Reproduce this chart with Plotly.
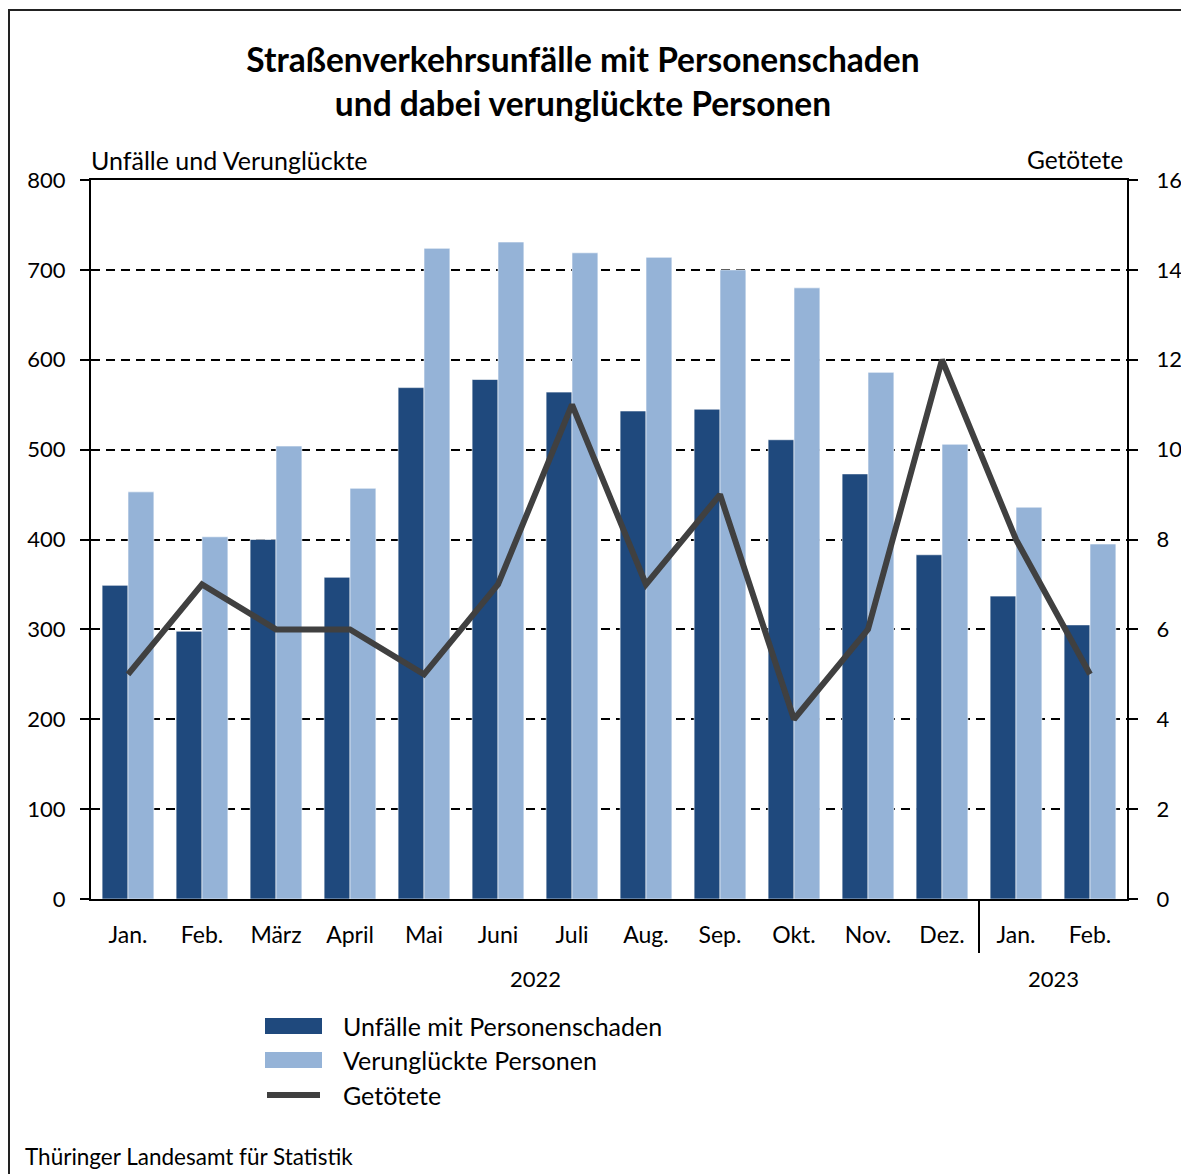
import plotly.graph_objects as go

months = ["Jan.", "Feb.", "März", "April", "Mai", "Juni", "Juli", "Aug.", "Sep.", "Okt.", "Nov.", "Dez.", "Jan.", "Feb."]
years = ["2022", "2023"]
unfaelle = [349, 298, 400, 358, 569, 578, 564, 543, 545, 511, 473, 383, 337, 305]
verunglueckte = [453, 403, 504, 457, 724, 731, 719, 714, 700, 680, 586, 506, 436, 395]
getoetete = [5, 7, 6, 6, 5, 7, 11, 7, 9, 4, 6, 12, 8, 5]

x = list(range(len(months)))
FONT = "Source Sans Pro, Lato, sans-serif"
DARK = "#1F497D"
LIGHT = "#95B3D7"
LINE = "#404040"

W, H = 1181, 1174

# window pixels -> paper coordinates (plot area 91..1127 x, 180..899 y)
def px(xp):
    return (xp - 91) / 1036.0

def py(yp):
    return (899 - yp) / 719.0

fig = go.Figure()
fig.add_trace(go.Bar(x=x, y=unfaelle, name="Unfälle mit Personenschaden",
                     marker=dict(color=DARK, line=dict(color="white", width=0.6)),
                     showlegend=False))
fig.add_trace(go.Bar(x=x, y=verunglueckte, name="Verunglückte Personen",
                     marker=dict(color=LIGHT, line=dict(color="white", width=0.6)),
                     showlegend=False))
fig.add_trace(go.Scatter(x=x, y=getoetete, name="Getötete", mode="lines",
                         line=dict(color=LINE, width=6), yaxis="y2",
                         showlegend=False))

shapes = []
# outer frame (left and top)
shapes.append(dict(type="line", xref="paper", yref="paper", x0=px(9), x1=px(9), y0=py(10), y1=py(1190),
                   line=dict(color="#222", width=2)))
shapes.append(dict(type="line", xref="paper", yref="paper", x0=px(8), x1=px(1200), y0=py(10), y1=py(10),
                   line=dict(color="#222", width=2)))
# year separator
shapes.append(dict(type="line", xref="x", yref="paper", x0=11.5, x1=11.5, y0=0, y1=py(953),
                   line=dict(color="black", width=2)))
# manual legend
shapes.append(dict(type="rect", xref="paper", yref="paper", x0=px(265), x1=px(322), y0=py(1018), y1=py(1034),
                   line=dict(width=0), fillcolor=DARK))
shapes.append(dict(type="rect", xref="paper", yref="paper", x0=px(265), x1=px(322), y0=py(1052), y1=py(1068),
                   line=dict(width=0), fillcolor=LIGHT))
shapes.append(dict(type="line", xref="paper", yref="paper", x0=px(267), x1=px(320), y0=py(1095), y1=py(1095),
                   line=dict(color=LINE, width=6)))

annotations = []
legend_items = [("Unfälle mit Personenschaden", 1026), ("Verunglückte Personen", 1060), ("Getötete", 1095)]
for txt, yy in legend_items:
    annotations.append(dict(text=txt, xref="paper", yref="paper", x=px(341), y=py(yy), xanchor="left",
                            yanchor="middle", showarrow=False, font=dict(size=25, color="black", family=FONT)))
annotations.append(dict(text="Unfälle und Verunglückte", xref="paper", yref="paper", x=px(89), y=py(160),
                        xanchor="left", yanchor="middle", showarrow=False,
                        font=dict(size=25, color="black", family=FONT)))
annotations.append(dict(text="Getötete", xref="paper", yref="paper", x=px(1125), y=py(160),
                        xanchor="right", yanchor="middle", showarrow=False,
                        font=dict(size=24.5, color="black", family=FONT)))
annotations.append(dict(text=years[0], xref="x", yref="paper", x=5.5, y=py(978), xanchor="center",
                        yanchor="middle", showarrow=False, font=dict(size=22, color="black", family=FONT)))
annotations.append(dict(text=years[1], xref="x", yref="paper", x=12.5, y=py(978), xanchor="center",
                        yanchor="middle", showarrow=False, font=dict(size=22, color="black", family=FONT)))
annotations.append(dict(text="Thüringer Landesamt für Statistik", xref="paper", yref="paper", x=px(23),
                        y=py(1156), xanchor="left", yanchor="middle", showarrow=False,
                        font=dict(size=22.5, color="black", family=FONT)))

fig.update_layout(
    width=W, height=H,
    margin=dict(l=91, r=W - 1127, t=180, b=H - 899),
    paper_bgcolor="white", plot_bgcolor="white",
    font=dict(family=FONT, size=22, color="black"),
    title=dict(text="<b>Straßenverkehrsunfälle mit Personenschaden<br>und dabei verunglückte Personen</b>",
               x=583 / W, xanchor="center", y=1 - 72 / H, yanchor="middle",
               font=dict(size=33.5, family=FONT, color="black")),
    barmode="group", bargap=0.3, bargroupgap=0,
    xaxis=dict(range=[-0.5, 13.5], tickvals=x, ticktext=months, showgrid=False, zeroline=False,
               showline=True, linecolor="black", linewidth=2, mirror=True, ticks="",
               ticklabelstandoff=14, tickfont=dict(size=23), automargin=False),
    yaxis=dict(range=[0, 800], dtick=100, showgrid=True, gridcolor="black", gridwidth=1.5,
               griddash="9px,6px", zeroline=False, showline=True, linecolor="black", linewidth=2,
               ticks="outside", ticklen=9, tickwidth=2, tickcolor="black", ticklabelstandoff=10,
               tickfont=dict(size=22), automargin=False),
    yaxis2=dict(range=[0, 16], dtick=2, overlaying="y", side="right", showgrid=False, zeroline=False,
                showline=True, linecolor="black", linewidth=2, ticks="outside", ticklen=9, tickwidth=2,
                tickcolor="black", ticklabelstandoff=14, tickfont=dict(size=22), automargin=False),
    shapes=shapes, annotations=annotations,
)

# remove the default 8px body margin so the figure fills the window exactly
fig.write_html("out.html", config={"displayModeBar": False},
               post_script="document.body.style.margin='0';")
